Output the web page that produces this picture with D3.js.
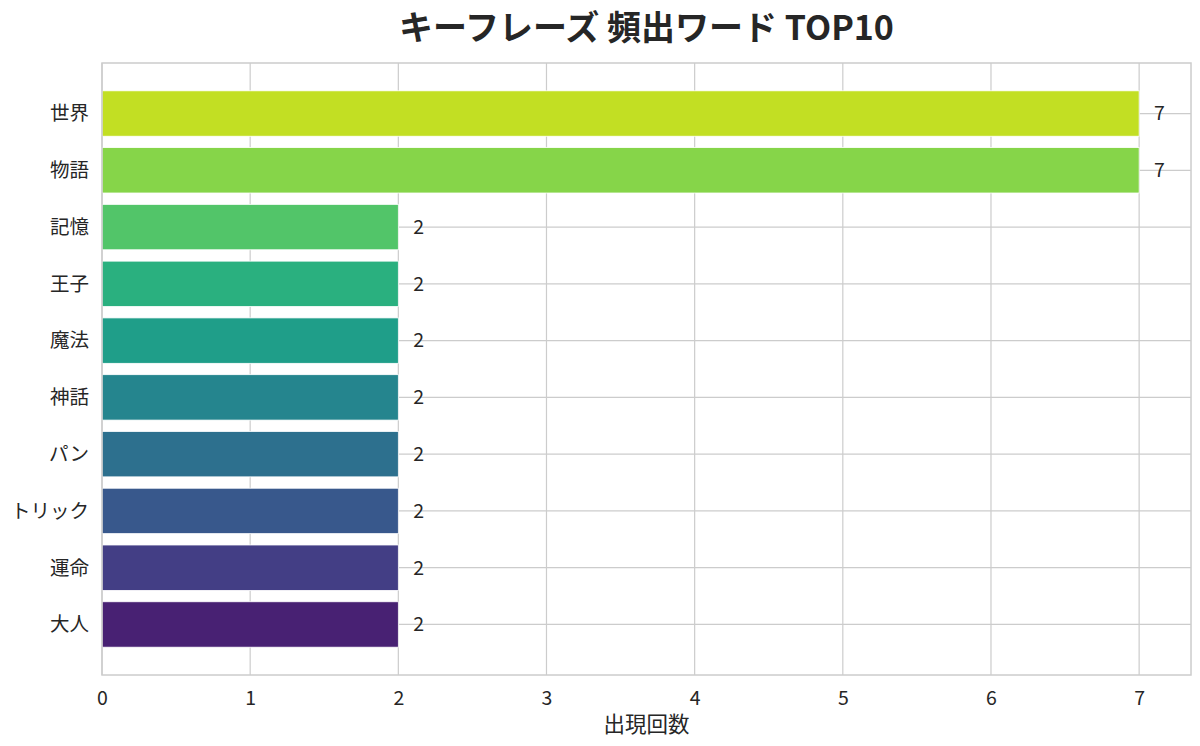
<!DOCTYPE html>
<html>
<head>
<meta charset="utf-8">
<script src="https://cdn.jsdelivr.net/npm/d3@7"></script>
<style>
  body { margin: 0; background: #fff; }
  text { font-family: "Noto Sans CJK JP", "Noto Sans", sans-serif; }
</style>
</head>
<body>
<div id="chart"></div>
<script>
// données du graphique
const words = ["世界", "物語", "記憶", "王子", "魔法", "神話", "パン", "トリック", "運命", "大人"];
const counts = [7, 7, 2, 2, 2, 2, 2, 2, 2, 2];
const barColors = ["#c2df23", "#86d549", "#52c569", "#2ab07f", "#1f9e89", "#25858e", "#2d708e", "#38588c", "#433e85", "#482173"];
const xTicks = [0, 1, 2, 3, 4, 5, 6, 7];

const width = 1200,
  height = 746;
const margin = { top: 63, right: 9, bottom: 71, left: 102 };
const innerW = width - margin.left - margin.right,
  innerH = height - margin.top - margin.bottom;

const svg = d3
  .select("#chart")
  .append("svg")
  .attr("width", width)
  .attr("height", height);

const g = svg
  .append("g")
  .attr("transform", "translate(" + margin.left + "," + margin.top + ")");

// échelles (style matplotlib : marge de 5%)
const xMax = d3.max(counts) * 1.05;
const x = d3.scaleLinear().domain([0, xMax]).range([0, innerW]);

const yLin = d3.scaleLinear().domain([-0.89, 9.89]).range([0, innerH]);
const bandH = yLin(0.8) - yLin(0);

// grille verticale
g.selectAll(".vgrid")
  .data(xTicks)
  .enter()
  .append("line")
  .attr("x1", (d) => x(d))
  .attr("x2", (d) => x(d))
  .attr("y1", 0)
  .attr("y2", innerH)
  .attr("stroke", "#cccccc")
  .attr("stroke-width", 1.2);

// grille horizontale (au centre des barres)
g.selectAll(".hgrid")
  .data(words)
  .enter()
  .append("line")
  .attr("x1", 0)
  .attr("x2", innerW)
  .attr("y1", (d, i) => yLin(i))
  .attr("y2", (d, i) => yLin(i))
  .attr("stroke", "#cccccc")
  .attr("stroke-width", 1.2);

// barres
g.selectAll(".bar")
  .data(counts)
  .enter()
  .append("rect")
  .attr("x", x(0))
  .attr("y", (d, i) => yLin(i) - bandH / 2)
  .attr("width", (d) => x(d) - x(0))
  .attr("height", bandH)
  .attr("fill", (d, i) => barColors[i])
  .attr("stroke", "#ffffff")
  .attr("stroke-width", 0.8);

// valeurs
g.selectAll(".val")
  .data(counts)
  .enter()
  .append("text")
  .attr("x", (d) => x(d + 0.1))
  .attr("y", (d, i) => yLin(i))
  .attr("dy", "0.35em")
  .style("font-size", "19.5px")
  .style("fill", "#262626")
  .text((d) => d);

// cadre
g.append("rect")
  .attr("width", innerW)
  .attr("height", innerH)
  .attr("fill", "none")
  .attr("stroke", "#cccccc")
  .attr("stroke-width", 1.5);

// étiquettes Y
g.selectAll(".ylab")
  .data(words)
  .enter()
  .append("text")
  .attr("x", -13)
  .attr("y", (d, i) => yLin(i))
  .attr("dy", "0.35em")
  .attr("text-anchor", "end")
  .style("font-size", "19.5px")
  .style("fill", "#262626")
  .text((d) => d);

// axe X
const xAxis = g
  .append("g")
  .attr("transform", "translate(0," + innerH + ")")
  .call(d3.axisBottom(x).tickValues(xTicks).tickSize(0).tickPadding(16));
xAxis.select(".domain").remove();
xAxis
  .selectAll("text")
  .style("font-size", "19.5px")
  .style("fill", "#262626")
  .style("font-family", '"Noto Sans CJK JP", sans-serif');

// titre de l'axe X
g.append("text")
  .attr("x", innerW / 2)
  .attr("y", innerH + 57)
  .attr("text-anchor", "middle")
  .style("font-size", "21.5px")
  .style("fill", "#262626")
  .text("出現回数");

// titre
svg
  .append("text")
  .attr("x", margin.left + innerW / 2)
  .attr("y", 40)
  .attr("text-anchor", "middle")
  .style("font-size", "34px")
  .style("font-weight", "bold")
  .style("fill", "#262626")
  .text("キーフレーズ 頻出ワード TOP10");
</script>
</body>
</html>
